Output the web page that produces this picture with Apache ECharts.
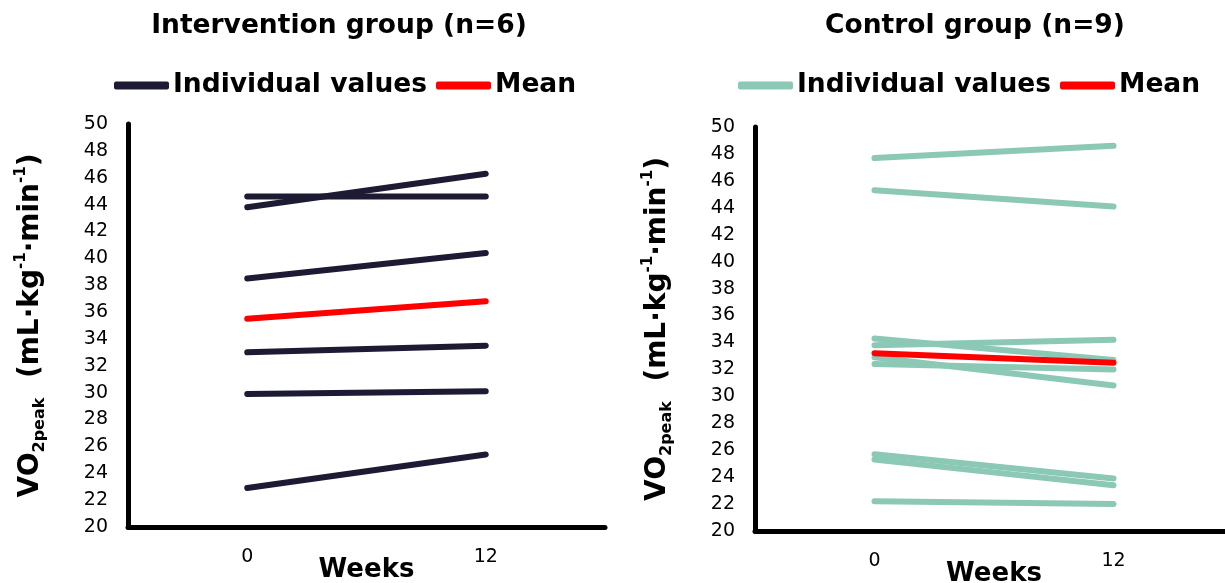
<!DOCTYPE html>
<html>
<head>
<meta charset="utf-8">
<script src="https://cdn.jsdelivr.net/npm/echarts@6/dist/echarts.min.js"></script>
<style>
  html, body { margin: 0; padding: 0; background: #fff; }
  #chart { width: 1225px; height: 583px; }
</style>
</head>
<body>
<div id="chart"></div>
<script>
// Time points (weeks)
const weeks = ['0', '12'];

// Intervention group: one [week 0, week 12] pair per participant
const interventionValues = [
  [44.6, 44.6],
  [43.8, 46.3],
  [38.5, 40.4],
  [33.0, 33.5],
  [29.9, 30.1],
  [22.9, 25.4]
];
const interventionMean = [35.5, 36.8];

// Control group: one [week 0, week 12] pair per participant
const controlValues = [
  [47.7, 48.6],
  [45.3, 44.1],
  [34.3, 32.7],
  [33.8, 34.2],
  [32.9, 30.8],
  [32.4, 32.0],
  [25.7, 23.9],
  [25.3, 23.4],
  [22.2, 22.0]
];
const controlMean = [33.2, 32.5];

const groupTitles = ['Intervention group (n=6)', 'Control group (n=9)'];
const legendLabels = ['Individual values', 'Mean'];

const NAVY = '#1c1b33';
const MINT = '#8cc8b6';
const RED = '#ff0000';
const FONT = 'DejaVu Sans';

const yName = '{b|VO}{sub|2peak}{b|  (mL·kg}{sup|-1}{b|·min}{sup|-1}{b|)}';
const yNameRich = {
  b:   { fontFamily: FONT, fontWeight: 'bold', fontSize: 28, lineHeight: 34, color: '#000', verticalAlign: 'middle' },
  sub: { fontFamily: FONT, fontWeight: 'bold', fontSize: 16, lineHeight: 34, color: '#000', verticalAlign: 'bottom', padding: [14, 0, 0, 0] },
  sup: { fontFamily: FONT, fontWeight: 'bold', fontSize: 15, lineHeight: 34, color: '#000', verticalAlign: 'top', padding: [0, 0, 6, 0] }
};

function makeXAxis(gridIndex) {
  return {
    type: 'category',
    gridIndex: gridIndex,
    data: weeks,
    boundaryGap: true,
    name: 'Weeks',
    nameLocation: 'middle',
    nameGap: 30,
    nameMoveOverlap: false,
    nameTextStyle: { fontFamily: FONT, fontWeight: 'bold', fontSize: 26, color: '#000', verticalAlign: 'top' },
    axisLine: { lineStyle: { color: '#000', width: 5 } },
    axisTick: { show: false },
    axisLabel: { fontFamily: FONT, fontSize: 19, color: '#000', margin: 21 },
    splitLine: { show: false }
  };
}

function makeYAxis(gridIndex) {
  return {
    type: 'value',
    gridIndex: gridIndex,
    min: 20,
    max: 50,
    interval: 2,
    name: yName,
    nameLocation: 'middle',
    nameRotate: 90,
    nameGap: 80,
    nameMoveOverlap: false,
    nameTextStyle: { rich: yNameRich },
    axisLine: { show: true, lineStyle: { color: '#000', width: 5 } },
    axisTick: { show: false },
    axisLabel: { fontFamily: FONT, fontSize: 19, color: '#000', margin: 20 },
    splitLine: { show: false }
  };
}

function lineSeries(name, values, color, idx) {
  return {
    type: 'line',
    name: name,
    xAxisIndex: idx,
    yAxisIndex: idx,
    data: values,
    symbol: 'none',
    silent: true,
    animation: false,
    itemStyle: { color: color },
    lineStyle: { color: color, width: 6, cap: 'round' }
  };
}

const series = [];
interventionValues.forEach(v => series.push(lineSeries('Intervention: ' + legendLabels[0], v, NAVY, 0)));
series.push(lineSeries('Intervention: ' + legendLabels[1], interventionMean, RED, 0));
controlValues.forEach(v => series.push(lineSeries('Control: ' + legendLabels[0], v, MINT, 1)));
series.push(lineSeries('Control: ' + legendLabels[1], controlMean, RED, 1));

function makeLegend(prefix, left) {
  return {
    left: left,
    top: 72,
    icon: 'roundRect',
    itemWidth: 55,
    itemHeight: 8,
    itemGap: 9,
    padding: 0,
    selectedMode: false,
    data: legendLabels.map(l => prefix + l),
    formatter: n => n.split(': ')[1],
    textStyle: { fontFamily: FONT, fontWeight: 'bold', fontSize: 26.5, color: '#000', padding: [0, 0, 0, -1] }
  };
}

const chart = echarts.init(document.getElementById('chart'), null, { renderer: 'canvas' });
chart.setOption({
  backgroundColor: '#fff',
  animation: false,
  title: [
    { text: groupTitles[0], left: 339, top: 13, textAlign: 'center', padding: 0,
      textStyle: { fontFamily: FONT, fontWeight: 'bold', fontSize: 26.5, color: '#000' } },
    { text: groupTitles[1], left: 975, top: 13, textAlign: 'center', padding: 0,
      textStyle: { fontFamily: FONT, fontWeight: 'bold', fontSize: 26.5, color: '#000' } }
  ],
  legend: [makeLegend('Intervention: ', 114), makeLegend('Control: ', 738)],
  grid: [
    { left: 128, top: 124, width: 477, height: 403, containLabel: false, outerBoundsMode: 'none' },
    { left: 755, top: 127, width: 478, height: 404, containLabel: false, outerBoundsMode: 'none' }
  ],
  xAxis: [makeXAxis(0), makeXAxis(1)],
  yAxis: [makeYAxis(0), makeYAxis(1)],
  series: series
});
</script>
</body>
</html>
